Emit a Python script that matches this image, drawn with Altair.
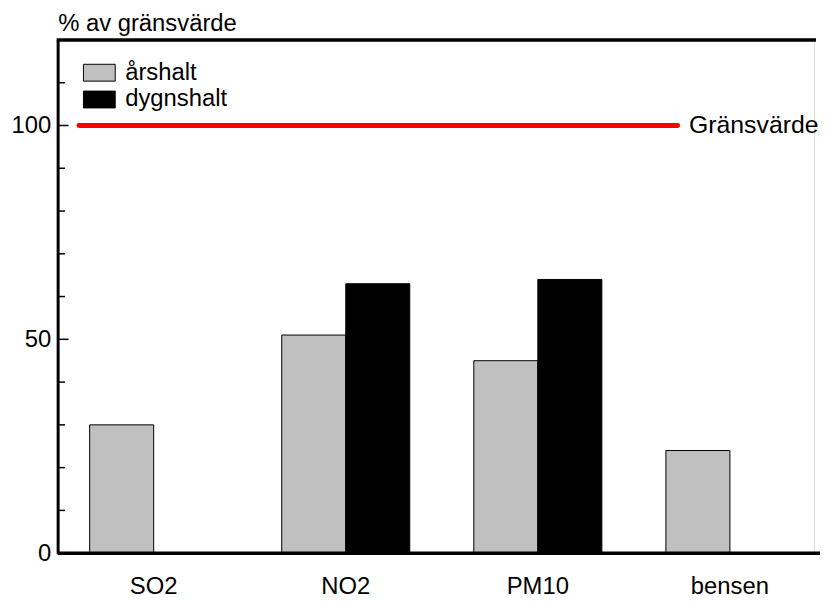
import altair as alt
import pandas as pd

categories = ["SO2", "NO2", "PM10", "bensen"]
arshalt = [30, 51, 45, 24]
dygnshalt = [None, 63, 64, None]
series = ["årshalt", "dygnshalt"]
series_colors = ["#c0c0c0", "#000000"]
y_labels = [0, 50, 100]
y_ticks_major = [50, 100]
y_ticks_minor = [10, 20, 30, 40, 60, 70, 80, 90, 110]
limit_value = 100
limit_label = "Gränsvärde"
y_max = 120
y_title = "% av gränsvärde"

FONT = "Liberation Sans"
FS = 24

rows = []
for c, a, d in zip(categories, arshalt, dygnshalt):
    rows.append({"category": c, "series": series[0], "value": a})
    if d is not None:
        rows.append({"category": c, "series": series[1], "value": d})
df = pd.DataFrame(rows)

yscale = alt.Scale(domain=[0, y_max], nice=False, zero=True)
yaxis = alt.Axis(values=y_labels, ticks=False, grid=False,
                 domainWidth=3, domainColor="black",
                 labelFontSize=FS, labelFont=FONT, labelColor="black",
                 labelPadding=7,
                 title=y_title, titleAngle=0, titleX=0, titleY=-10,
                 titleAlign="left", titleBaseline="alphabetic",
                 titleFontSize=FS, titleFont=FONT,
                 titleFontWeight="normal", titleColor="black")

bars = alt.Chart(df).mark_bar(stroke="black", strokeWidth=1).encode(
    x=alt.X("category:N", sort=categories,
            scale=alt.Scale(range=[0, 774], paddingInner=0, paddingOuter=0),
            axis=alt.Axis(title=None, ticks=False, domain=False, labelAngle=0,
                          labelFontSize=FS, labelFont=FONT, labelColor="black",
                          labelPadding=22)),
    xOffset=alt.XOffset("series:N", sort=series,
                        scale=alt.Scale(paddingInner=0, paddingOuter=0.5)),
    y=alt.Y("value:Q", scale=yscale, axis=yaxis),
    fill=alt.Fill("series:N", sort=series,
                  scale=alt.Scale(domain=series, range=series_colors),
                  legend=alt.Legend(orient="none", legendX=30, legendY=21,
                                    title=None, direction="vertical",
                                    symbolType="M-2,-1.06H2V1.06H-2Z",
                                    symbolSize=256,
                                    symbolStrokeColor="black",
                                    symbolStrokeWidth=1,
                                    labelFontSize=FS, labelFont=FONT,
                                    labelColor="black", labelOffset=14,
                                    rowPadding=3)),
)

minor_df = pd.DataFrame({"tick": y_ticks_minor})
major_df = pd.DataFrame({"tick": y_ticks_major})

minor = alt.Chart(minor_df).mark_rule(color="black", strokeWidth=1.5).encode(
    y=alt.Y("tick:Q", scale=yscale, axis=yaxis),
    x=alt.value(1.5), x2=alt.value(7.5))
major = alt.Chart(major_df).mark_rule(color="black", strokeWidth=1.5).encode(
    y=alt.Y("tick:Q", scale=yscale, axis=yaxis),
    x=alt.value(1.5), x2=alt.value(11))

bottom = alt.Chart().mark_rule(color="black", strokeWidth=3.5).encode(
    y=alt.datum(0, scale=yscale, axis=yaxis), x=alt.value(0), x2=alt.value(768))
top = alt.Chart().mark_rule(color="black", strokeWidth=3.5).encode(
    y=alt.datum(y_max, scale=yscale, axis=yaxis), x=alt.value(-1), x2=alt.value(764))

limit = alt.Chart().mark_rule(color="#ff0000", strokeWidth=5, strokeCap="round").encode(
    y=alt.datum(limit_value, scale=yscale, axis=yaxis), x=alt.value(21.5), x2=alt.value(624.5))
limit_text = alt.Chart().mark_text(align="left", baseline="middle", font=FONT,
                                   fontSize=25, color="black").encode(
    y=alt.datum(limit_value, scale=yscale, axis=yaxis), x=alt.value(636),
    text=alt.value(limit_label))

chart = alt.layer(bars, minor, major, limit, limit_text, bottom, top).properties(
    width=762, height=517,
    autosize=alt.AutoSizeParams(type="none"),
    padding={"left": 50, "top": 30, "right": 6, "bottom": 45},
).configure_view(stroke=None).configure(background="white")

chart.save("out.html", embed_options={"renderer": "svg", "actions": False})
